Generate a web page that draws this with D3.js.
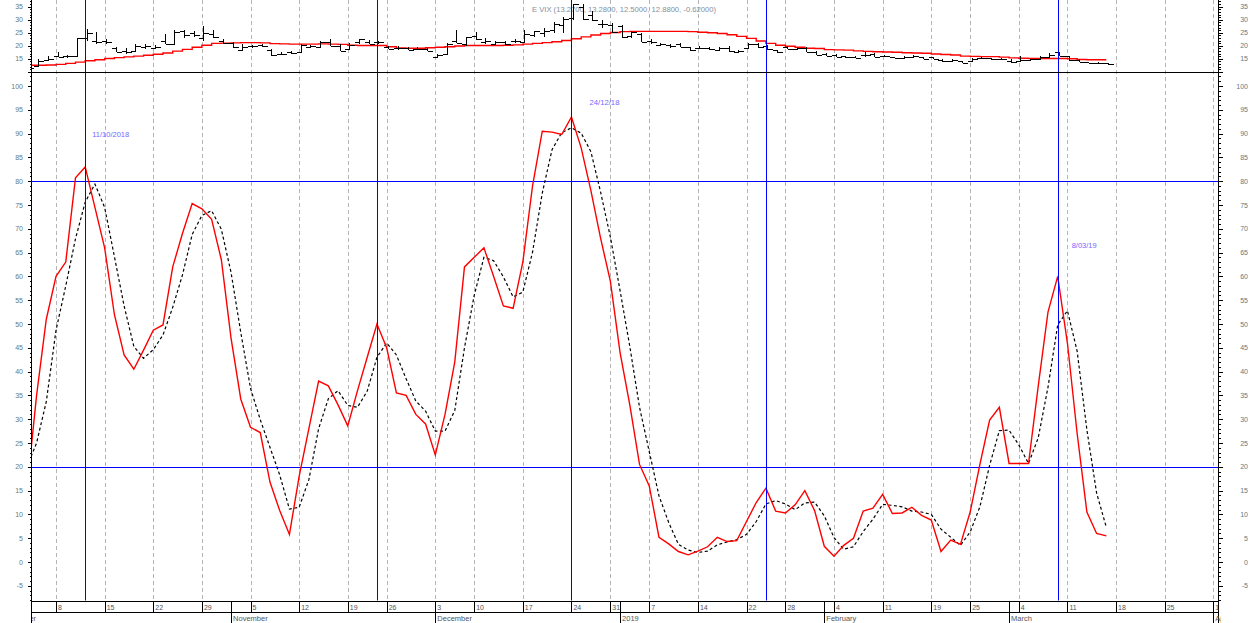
<!DOCTYPE html>
<html><head><meta charset="utf-8">
<script src="https://cdn.jsdelivr.net/npm/d3@7"></script>
<style>body{margin:0;background:#fff}svg{display:block}text{font-family:"Liberation Sans",Arial,sans-serif}</style>
</head><body><svg id="c" width="1250" height="623"></svg>
<script>
// ---------- calendar ----------
const calStart = "2018-10-01", calEnd = "2019-04-01";
const holidays = ["2018-11-22","2018-12-05","2018-12-25","2019-01-01","2019-01-21","2019-02-18"];
const firstDataDay = "2018-10-03"; // data run Oct 3 2018 .. Mar 15 2019

// ---------- VIX daily bars (top panel) ----------
const vixOpen = [11.8,12.2,14.5,
 16.0,16.0,16.2,22.8,22.0,21.8,19.0,18.0,18.0,19.5,
 19.1,22.0,20.6,25.5,25.0,23.0,24.5,22.0,21.0,18.4,
 19.9,20.2,18.5,16.8,17.6,17.5,19.5,19.4,21.5,20.0,
 18.8,21.3,21.6,21.5,19.5,19.3,19.0,18.8,18.6,15.5,
 16.7,22.0,20.5,23.6,21.6,20.8,21.4,21.9,21.6,24.0,
 24.9,26.0,27.9,30.5,35.0,32.0,28.5,28.0,27.5,23.9,
 24.5,21.7,20.4,20.2,20.5,19.5,19.0,19.0,18.4,19.2,
 17.6,19.3,20.5,19.8,18.4,19.4,18.8,19.0,17.5,16.8,
 16.6,15.9,15.6,16.5,17.0,16.2,15.5,15.3,15.7,15.5,
 15.6,14.6,14.0,14.2,14.0,15.3,15.1,14.7,14.3,14.0,
 14.6,14.8,15.8,17.4,15.9,14.4,13.6,13.5,13.27];
const vixHigh = [12.2,15.0,16.0,
 17.4,16.6,23.0,26.5,25.2,22.5,19.5,19.3,20.8,20.8,
 20.2,24.6,25.9,26.0,25.8,27.5,26.2,22.5,21.5,20.7,
 20.3,20.6,18.6,17.5,18.0,20.6,20.4,22.0,22.5,20.6,
 21.0,22.6,22.2,22.0,19.8,20.0,19.4,19.5,19.3,17.0,
 21.0,25.9,23.4,25.1,23.0,21.9,21.8,22.4,25.9,25.8,
 27.0,29.0,31.2,36.2,36.1,33.2,30.0,28.9,28.0,25.5,
 24.8,22.4,21.1,20.6,21.0,19.6,20.0,19.4,19.5,20.0,
 18.2,21.2,20.9,20.3,18.5,20.0,19.6,19.4,17.9,17.1,
 16.9,16.1,15.9,17.5,17.3,16.5,15.8,15.9,16.6,15.6,
 15.8,14.9,15.0,14.3,15.2,15.7,15.3,15.1,15.0,15.9,
 15.0,15.9,17.3,17.6,16.1,14.7,13.9,13.9,13.28];
const vixLow = [11.3,12.0,14.0,
 15.5,15.4,16.0,22.0,20.8,20.6,17.5,17.0,17.5,18.7,
 18.9,20.5,20.4,23.0,23.5,22.0,23.0,20.8,19.2,18.0,
 19.0,19.6,16.2,16.4,16.7,17.4,19.0,19.1,19.7,18.0,
 18.5,20.5,20.7,20.8,18.7,18.5,18.2,18.4,17.9,15.4,
 16.5,20.9,19.7,22.3,20.7,20.5,20.3,21.0,21.2,23.5,
 23.2,25.0,24.9,30.0,29.9,29.5,27.0,25.0,23.0,22.8,
 21.4,20.6,19.7,19.3,19.4,18.1,18.6,18.2,18.1,17.6,
 17.1,18.9,19.1,18.5,17.2,18.6,18.5,17.5,16.5,15.9,
 15.7,15.4,15.2,15.8,15.6,15.6,15.3,15.1,15.5,14.8,
 14.8,13.9,13.9,13.5,13.9,14.7,14.6,14.5,13.5,13.9,
 14.3,14.4,15.6,16.0,14.3,13.7,13.3,13.1,12.5];
const vixClose = [11.61,14.22,14.82,
 15.69,15.95,22.96,24.98,21.31,21.30,17.62,17.40,20.06,19.89,
 19.64,20.71,25.23,24.22,24.16,24.70,23.35,21.23,19.34,19.51,
 19.96,19.91,16.36,16.72,17.36,20.45,20.02,21.25,19.98,18.14,
 20.10,22.48,20.80,21.52,18.90,19.02,18.49,18.79,18.07,16.44,
 20.74,21.19,23.23,22.64,21.76,21.46,20.65,21.63,24.52,25.58,
 25.58,28.38,30.11,36.07,30.41,29.96,28.34,25.42,23.22,25.45,
 21.38,21.40,20.47,19.98,19.50,18.19,19.07,18.60,19.04,18.06,
 17.80,20.80,19.52,18.89,17.42,18.87,19.13,17.66,16.57,16.14,
 15.73,15.57,15.38,16.37,15.72,15.97,15.43,15.65,16.22,14.91,
 14.88,14.02,14.46,13.51,14.85,15.17,14.70,14.78,13.57,14.63,
 14.74,15.74,16.59,16.05,14.33,13.77,13.41,13.50,12.88];
const vixAvg = [12.5,12.5,12.6,
 12.8,13.2,13.7,14.2,14.6,15.1,15.4,15.7,16.0,16.3,
 16.7,17.2,17.9,18.6,19.4,20.2,20.9,21.0,21.1,21.2,
 21.2,21.1,20.8,20.7,20.6,20.6,20.6,20.7,20.6,20.5,
 20.2,20.1,20.1,20.1,19.6,19.1,19.0,19.0,19.2,19.4,
 19.6,19.9,20.1,20.1,20.1,20.1,20.2,20.3,20.6,20.9,
 21.2,21.5,22.0,22.7,23.4,24.1,24.7,25.1,25.4,25.5,
 25.5,25.5,25.5,25.5,25.5,25.4,25.2,25.0,24.7,24.2,
 23.6,22.8,21.8,20.9,20.2,19.8,19.4,19.0,18.9,18.5,
 18.4,18.3,18.0,17.8,17.7,17.6,17.5,17.3,17.2,17.1,
 16.8,16.6,16.4,16.0,15.9,15.8,15.8,15.6,15.3,15.2,
 15.1,15.1,15.1,15.1,15.0,14.7,14.6,14.6,14.6];

// ---------- oscillator (bottom panel) ----------
const oscK = [15,35,51,
 60,63,80.7,83,74.5,66,52,43.5,40.5,44.5,
 48.7,49.8,62,69,75.3,74.2,72,63.5,47,34.2,
 28.3,27.2,16.8,10.8,5.8,18,28,38,37,33,
 28.6,36,43,50,45,35.5,35,31,29,22.5,
 31,42,62,64,66,60,53.8,53.3,63,79,
 90.5,90.3,89.8,93.5,87,78,68,59,44,33,
 20.5,16,5.2,3.8,2.2,1.5,2.3,3.2,5.2,4.3,
 4.5,8.5,12.5,15.5,10.7,10.3,12,15,10.8,3.3,
 1.2,3.5,5,10.7,11.3,14.2,10.2,10.3,11.5,9.8,
 8.8,2.2,4.6,3.7,10.5,20.5,29.8,32.5,20.7,20.7,
 20.7,37,52.5,60,46,27,10.5,6,5.5];
const oscD = [20,25,33.7,
 48.7,58,67.9,75.6,79.4,74.5,64.2,53.8,45.3,42.8,
 44.6,47.7,53.5,60.3,68.8,72.8,73.8,69.9,60.8,48.2,
 36.5,29.9,24.1,18.3,11.1,11.5,17.3,28,34.3,36,
 32.9,32.5,35.9,43,46,43.5,38.5,33.8,31.7,27.5,
 27.5,31.8,45,56,64,63.3,59.9,55.7,56.7,65.1,
 77.5,86.6,90.2,91.2,90.1,86.2,77.7,68.3,57,45.3,
 32.5,23.2,13.9,8.3,3.7,2.5,2,2.3,3.6,4.2,
 4.7,5.8,8.5,12.2,12.9,12.2,11,12.4,12.6,9.7,
 5.1,2.7,3.2,6.4,9,12.1,11.9,11.6,10.7,10.5,
 10,6.9,5.2,3.5,6.3,11.6,20.3,27.6,27.7,24.6,
 20.7,26.1,36.7,49.8,52.8,44.3,27.8,14.5,7.3];

const topTickValues = [15,20,25,30,35];
const botTickValues = [-5,0,5,10,15,20,25,30,35,40,45,50,55,60,65,70,75,80,85,90,95,100];
const levelLines = [80,20];
const markerDays = ["2018-10-11","2018-11-23","2018-12-24","2019-01-24","2019-03-08"];
const noteDays = ["2018-10-11","2018-12-24","2019-03-08"];
const noteValues = [90,96.6,66.6];
const noteTexts = ["11/10/2018","24/12/18","8/03/19"];
const monthNames = ["2019","February","March","April","May","June","July","August","September","October","November","December"];
const titleText = "E VIX (13.2700, 13.2800, 12.5000, 12.8800, -0.62000)";

// ---------- build trading days ----------
const days = [];
{
  const d = new Date(calStart + "T00:00:00Z"), e = new Date(calEnd + "T00:00:00Z");
  for (; d <= e; d.setUTCDate(d.getUTCDate() + 1)) {
    const wd = d.getUTCDay(), s = d.toISOString().slice(0, 10);
    if (wd > 0 && wd < 6 && !holidays.includes(s)) days.push(s);
  }
}
const i0 = days.indexOf(firstDataDay);
const dataDays = days.slice(i0, i0 + oscK.length);
const dow = s => new Date(s + "T00:00:00Z").getUTCDay();
const weekStarts = days.filter((d, i) => i === 0 || dow(d) <= dow(days[i - 1]));
const monthStarts = days.filter((d, i) => i === 0 || d.slice(5, 7) !== days[i - 1].slice(5, 7));

// ---------- scales ----------
const L = 31.5, R = 1218.5, TOPB = 72, BOTB = 600.5;
const x = d3.scalePoint().domain(days).range([7.4, 1213.3]);
const yTop = d3.scaleLinear().domain([15, 35]).range([58.7, 6.7]);
const yBot = d3.scaleLinear().domain([0, 100]).range([562, 86]);
const px = v => Math.round(v) + 0.5;

const svg = d3.select("#c");
const defs = svg.append("defs");
defs.append("clipPath").attr("id", "cT").append("rect").attr("x", 32).attr("y", 0).attr("width", R - 32).attr("height", TOPB);
defs.append("clipPath").attr("id", "cB").append("rect").attr("x", 32).attr("y", TOPB).attr("width", R - 32).attr("height", BOTB - TOPB);
defs.append("clipPath").attr("id", "cX").append("rect").attr("x", 32).attr("y", 600).attr("width", 1221 - 32).attr("height", 23);

// ---------- gridlines ----------
svg.append("g").selectAll("line").data(weekStarts.filter(d => x(d) > 33 && x(d) < R))
  .join("line").attr("x1", d => px(x(d))).attr("x2", d => px(x(d))).attr("y1", 0).attr("y2", BOTB)
  .attr("stroke", "#b4b4b4").attr("stroke-dasharray", "4,3").attr("stroke-width", 1);

// ---------- level lines ----------
svg.append("g").selectAll("line").data(levelLines).join("line")
  .attr("x1", L).attr("x2", R).attr("y1", d => px(yBot(d))).attr("y2", d => px(yBot(d)))
  .attr("stroke", "#0000ff").attr("stroke-width", 1);

// ---------- title ----------
svg.append("text").attr("x", 532).attr("y", 12).attr("font-size", 8).attr("fill", "#8090a2")
  .attr("textLength", 184).attr("lengthAdjust", "spacingAndGlyphs").text(titleText);

// ---------- top panel: bars + average ----------
const gT = svg.append("g").attr("clip-path", "url(#cT)");
gT.append("path").datum(dataDays.map((d, i) => [x(d), yTop(vixAvg[i])]))
  .attr("d", d3.line().curve(d3.curveStepAfter)).attr("fill", "none").attr("stroke", "#ff0000").attr("stroke-width", 1.4);
gT.append("g").selectAll("path").data(dataDays.map((d, i) => i)).join("path")
  .attr("d", i => {
    const cx = px(x(dataDays[i]) + 1.5);
    return `M${cx},${yTop(vixHigh[i])}V${yTop(vixLow[i])}M${cx - 5},${px(yTop(vixOpen[i]))}H${cx}M${cx},${px(yTop(vixClose[i]))}H${cx + 5}`;
  })
  .attr("fill", "none").attr("stroke", "#000").attr("stroke-width", 1).attr("shape-rendering", "crispEdges");

// ---------- bottom panel ----------
const gB = svg.append("g").attr("clip-path", "url(#cB)");
gB.append("path").datum(dataDays.map((d, i) => [x(d), yBot(oscD[i])]))
  .attr("d", d3.line()).attr("fill", "none").attr("stroke", "#000").attr("stroke-width", 1.2).attr("stroke-dasharray", "3,2.5");
gB.append("path").datum(dataDays.map((d, i) => [x(d), yBot(oscK[i])]))
  .attr("d", d3.line()).attr("fill", "none").attr("stroke", "#ff0000").attr("stroke-width", 1.4);

// ---------- marker verticals ----------
svg.append("g").selectAll("line").data(markerDays).join("line")
  .attr("x1", d => px(x(d))).attr("x2", d => px(x(d))).attr("y1", 0).attr("y2", BOTB)
  .attr("stroke", "#0000ff").attr("stroke-width", 1);

// ---------- notes ----------
const noteDx = [7, 18, 14], noteLen = [37, 30, 25];
svg.append("g").selectAll("text").data(noteTexts).join("text")
  .attr("x", (t, i) => x(noteDays[i]) + noteDx[i]).attr("y", (t, i) => yBot(noteValues[i]) + 3)
  .attr("font-size", 8).attr("fill", "#7468ff").attr("textLength", (t, i) => noteLen[i])
  .attr("lengthAdjust", "spacingAndGlyphs").text(t => t);

// ---------- frame lines ----------
const frame = svg.append("g").attr("stroke", "#000").attr("stroke-width", 1).attr("shape-rendering", "crispEdges");
frame.append("line").attr("x1", L).attr("x2", L).attr("y1", 0).attr("y2", 623);
frame.append("line").attr("x1", R).attr("x2", R).attr("y1", 0).attr("y2", 623);
frame.append("line").attr("x1", 29).attr("x2", 1222).attr("y1", TOPB + 0.5).attr("y2", TOPB + 0.5);
frame.append("line").attr("x1", L).attr("x2", R).attr("y1", 601.5).attr("y2", 601.5);
frame.append("line").attr("x1", L).attr("x2", R).attr("y1", 612.5).attr("y2", 612.5);

// ---------- y axes ----------
const labelColor = "#5f7a82";
function yAxes(scale, lo, hi, labels) {
  const minor = d3.range(lo, hi + 1);
  const g = svg.append("g").attr("stroke", "#000").attr("shape-rendering", "crispEdges");
  g.selectAll(".ml").data(minor).join("line").attr("x1", d => d % 5 === 0 ? L - 4 : L - 2).attr("x2", L)
    .attr("y1", d => px(scale(d))).attr("y2", d => px(scale(d)));
  g.selectAll(".mr").data(minor).join("line").attr("x1", R).attr("x2", d => d % 5 === 0 ? R + 4 : R + 2)
    .attr("y1", d => px(scale(d))).attr("y2", d => px(scale(d)));
  const t = svg.append("g").attr("font-size", 7).attr("fill", labelColor).attr("text-anchor", "end");
  t.selectAll(".l").data(labels).join("text").attr("x", 23).attr("y", d => scale(d) + 2.5).text(d => d);
  t.selectAll(".r").data(labels).join("text").attr("x", 1248).attr("y", d => scale(d) + 2.5).text(d => d);
}
yAxes(yTop, 10, 37, topTickValues);
yAxes(yBot, -8, 102, botTickValues);

// ---------- date axis ----------
const gX = svg.append("g").attr("clip-path", "url(#cX)");
const wk = weekStarts.filter(d => x(d) > 33);
gX.selectAll(".wl").data(wk).join("line").attr("x1", d => px(x(d))).attr("x2", d => px(x(d)))
  .attr("y1", 601).attr("y2", 612.5).attr("stroke", "#000").attr("shape-rendering", "crispEdges");
gX.selectAll(".wt").data(wk).join("text").attr("x", d => x(d) + 2).attr("y", 610)
  .attr("font-size", 7).attr("fill", "#555").text(d => +d.slice(8, 10));
gX.selectAll(".mlin").data(monthStarts.filter(d => x(d) > 33)).join("line").attr("x1", d => px(x(d))).attr("x2", d => px(x(d)))
  .attr("y1", 601).attr("y2", 623).attr("stroke", "#000").attr("shape-rendering", "crispEdges");
gX.selectAll(".mt").data(monthStarts).join("text").attr("x", d => x(d) + 2).attr("y", 621)
  .attr("font-size", 7.5).attr("fill", "#555").text(d => monthNames[+d.slice(5, 7) - 1]);
</script></body></html>
